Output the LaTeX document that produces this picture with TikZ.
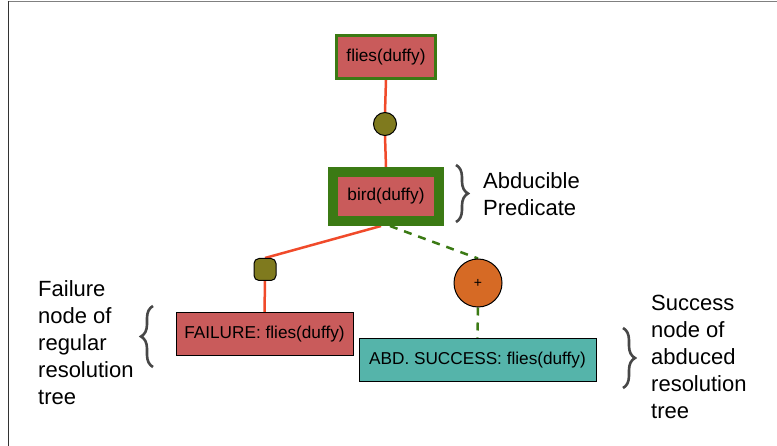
\documentclass[tikz,border=0pt]{standalone}
\usepackage{fontspec}
\setmainfont{Liberation Sans}
\usetikzlibrary{decorations.pathreplacing,backgrounds}

\definecolor{goalred}{HTML}{C95B5B}
\definecolor{edgered}{HTML}{F04A2A}
\definecolor{abdgreen}{HTML}{3B7A14}
\definecolor{choiceolive}{HTML}{7F7A1E}
\definecolor{abdorange}{HTML}{D66A25}
\definecolor{succteal}{HTML}{55B4AA}
\definecolor{bracegray}{HTML}{474747}

\tikzset{
  lbl/.style={font=\fontsize{17.2}{18}\selectfont},
  goalbox/.style={lbl, rectangle, fill=goalred, draw=abdgreen, line width=3pt,
    minimum width=99pt, minimum height=43pt, inner sep=0pt},
  abdbox/.style={lbl, rectangle, fill=goalred, draw=abdgreen, line width=10pt,
    minimum width=106pt, minimum height=49pt, inner sep=0pt},
  failbox/.style={lbl, rectangle, fill=goalred, draw=black, line width=1pt,
    minimum height=43pt, inner sep=0pt},
  succbox/.style={lbl, rectangle, fill=succteal, draw=black, line width=1pt,
    minimum height=43pt, inner sep=0pt},
  choice/.style={circle, fill=choiceolive, draw=black, line width=1pt,
    minimum size=23pt, inner sep=0pt},
  choicesq/.style={rectangle, rounded corners=5pt, fill=choiceolive, draw=black,
    line width=1pt, minimum size=22pt, inner sep=0pt},
  abdchoice/.style={circle, fill=abdorange, draw=black, line width=1pt,
    minimum size=48pt, inner sep=0pt, font=\fontsize{14}{14}\selectfont},
  resedge/.style={draw=edgered, line width=2.5pt},
  abdedge/.style={draw=abdgreen, line width=2.5pt, dash pattern=on 8pt off 7pt},
  note/.style={font=\fontsize{22}{27}\selectfont, align=left, inner sep=0pt, anchor=west},
  bracket/.style={draw=bracegray, line width=2.6pt, decorate,
    decoration={brace, amplitude=12pt}},
}

\begin{document}
\begin{tikzpicture}[x=1pt, y=-1pt]
\useasboundingbox (0,0) rectangle (777,446);

% window frame (top and left edges)
\draw[draw=gray, line width=1.5pt] (7.5,1.5) -- (777,1.5);
\draw[draw=black!80, line width=1.5pt] (8.3,1) -- (8.3,446);

% tree nodes
\node[goalbox] (top) at (386,57) {flies(duffy)};
\node[choice] (c1) at (385,124) {};
\node[abdbox] (bird) at (386,196.5) {bird(duffy)};
\node[choicesq] (c2) at (265,269.5) {};
\node[abdchoice] (c3) at (478,283) {+};
\node[failbox, minimum width=177pt] (fail) at (264.5,334.5) {FAILURE: flies(duffy)};
\node[succbox, minimum width=237pt] (succ) at (477.5,360.5) {ABD. SUCCESS: flies(duffy)};

% connectors, drawn under the nodes
\begin{scope}[on background layer]
\path[resedge] (top.south) -- (c1.north);
\path[resedge] (c1.south) -- (bird.north);
\path[resedge] ([xshift=-5pt]bird.south) -- (c2.north);
\path[resedge] (c2.south) -- (fail.north);
\path[abdedge] ([xshift=4pt]bird.south) -- (c3.north);
\path[abdedge] (c3.south) -- (succ.north);
\end{scope}

% annotations
\coordinate (b1s) at (456,165);
\coordinate (b1e) at (456,222);
\draw[bracket] (b1s) -- (b1e);
\node[note] (abdnote) at (483,194.5) {Abducible\\Predicate};

\coordinate (b2s) at (153,367);
\coordinate (b2e) at (153,306);
\draw[bracket] (b2s) -- (b2e);
\node[note] (failnote) at (38,343) {Failure\\node of\\regular\\resolution\\tree};

\coordinate (b3s) at (623,328);
\coordinate (b3e) at (623,388);
\draw[bracket] (b3s) -- (b3e);
\node[note] (succnote) at (651,357) {Success\\node of\\abduced\\resolution\\tree};
\end{tikzpicture}
\end{document}
